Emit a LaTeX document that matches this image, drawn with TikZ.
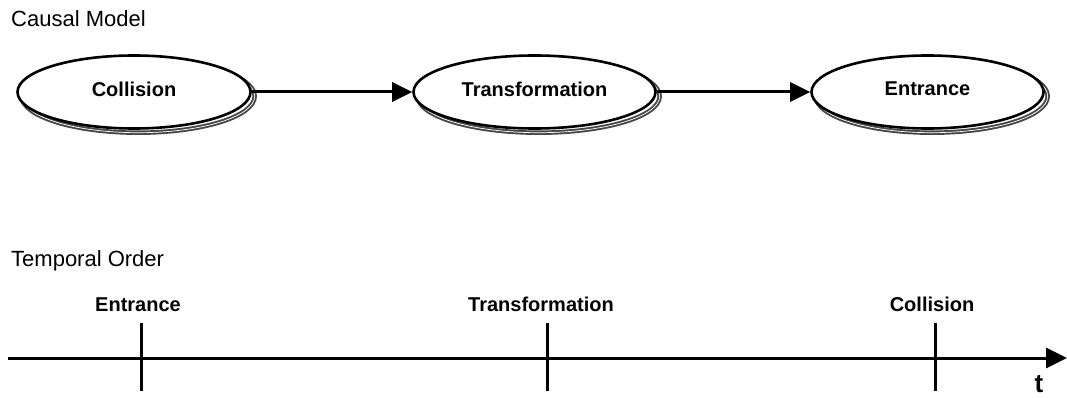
\documentclass[tikz,border=0pt]{standalone}
\usepackage{fontspec}
\setmainfont{Liberation Sans}
\usetikzlibrary{shapes.geometric,arrows.meta,backgrounds}
\begin{document}
\begin{tikzpicture}[x=1pt,y=-1pt,
  heading/.style={anchor=base west, inner sep=0pt, font=\fontsize{22}{26}\selectfont},
  event/.style={ellipse, draw=black, line width=2.6pt, fill=white,
    minimum height=73pt, inner sep=0pt, text depth=6pt,
    font=\fontsize{20}{24}\selectfont\bfseries},
  shadowband/.style={draw=black!72, line width=4.5pt},
  shadowgap/.style={draw=white, line width=0.7pt},
  conn/.style={line width=3pt, -{Triangle[length=20pt,width=19pt]}},
  tick/.style={line width=3pt},
  ticklabel/.style={anchor=base, inner sep=0pt, font=\fontsize{20}{24}\selectfont\bfseries}
]
\useasboundingbox (0,0) rectangle (1067,398);

% section headings
\node[heading] (hcausal) at (11,26.7) {Causal Model};
\node[heading] (htemp) at (11,266.7) {Temporal Order};

% causal model: three events in a chain
\node[event, minimum width=233pt] (col) at (134,92) {Collision};
\node[event, minimum width=242pt] (tra) at (534.5,92) {Transformation};
\node[event, minimum width=232pt] (ent) at (927.5,92) {Entrance};

% double-outline drop shadows behind the events
\begin{scope}[on background layer]
  \foreach \n/\rx in {col/116.5, tra/121, ent/116} {
    \draw[shadowband] ([shift={(4.2,4.2)}]\n.center) ellipse [x radius=\rx, y radius=36.5];
    \draw[shadowgap]  ([shift={(4.2,4.2)}]\n.center) ellipse [x radius=\rx, y radius=36.5];
  }
\end{scope}

\draw[conn] (col) -- (tra);
\draw[conn] (tra) -- (ent);

% temporal order: time axis with three marks
\coordinate (axs) at (8,358);
\coordinate (axe) at (1067,358);
\draw[line width=3pt, -{Triangle[length=21pt,width=20pt]}] (axs) -- (axe);

\coordinate (m1) at (141,358);
\coordinate (m2) at (547,358);
\coordinate (m3) at (935,358);
\foreach \m in {m1,m2,m3}
  \draw[tick] ([yshift=-33]\m) -- ([yshift=35]\m);

\node[ticklabel] (l1) at (138,311.7) {Entrance};
\node[ticklabel] (l2) at (541,311.7) {Transformation};
\node[ticklabel] (l3) at (932,311.7) {Collision};

\node[anchor=base, inner sep=0pt, font=\fontsize{26}{30}\selectfont\bfseries] (tlab) at (1039,392) {t};
\end{tikzpicture}
\end{document}
